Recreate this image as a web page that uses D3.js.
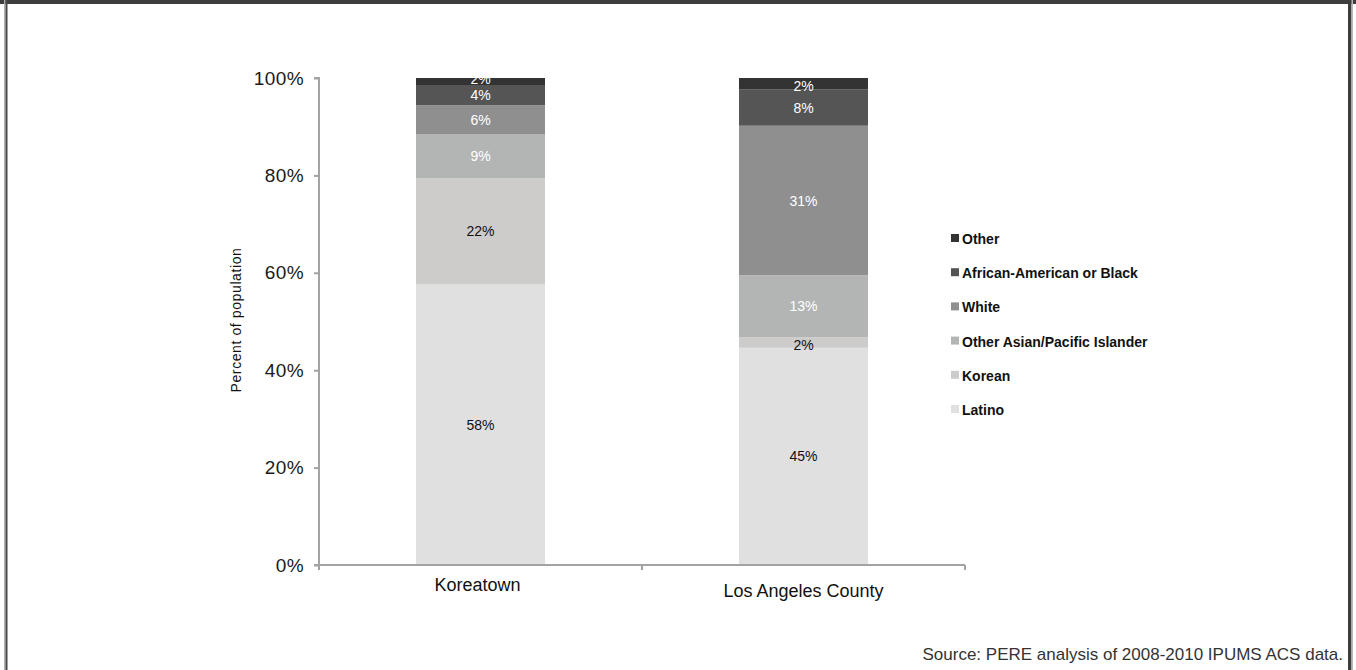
<!DOCTYPE html>
<html>
<head>
<meta charset="utf-8">
<script src="https://cdn.jsdelivr.net/npm/d3@7"></script>
<style>
  html, body { margin: 0; padding: 0; background: #fff; }
  svg { display: block; }
  text { font-family: "Liberation Sans", Arial, sans-serif; }
</style>
</head>
<body>
<svg id="chart" width="1356" height="670"></svg>
<script>
// Population by race/ethnicity, stacked to 100%
const places = ["Koreatown", "Los Angeles County"];
const groups = ["Latino", "Korean", "Other Asian/Pacific Islander", "White", "African-American or Black", "Other"];
const koreatownShares = [57.6, 21.8, 9.0, 6.0, 4.0, 1.6];
const laCountyShares  = [44.6, 2.2, 12.7, 30.7, 7.5, 2.3];
const groupColors = ["#e0e0e0", "#cdccca", "#b3b5b4", "#8f8f8f", "#555555", "#333333"];
const labelColors = ["#111111", "#111111", "#ffffff", "#ffffff", "#ffffff", "#ffffff"];
const yTicks = [0, 20, 40, 60, 80, 100];

const rows = places.map((p, i) => {
  const vals = i === 0 ? koreatownShares : laCountyShares;
  const r = { place: p };
  groups.forEach((g, j) => r[g] = vals[j]);
  return r;
});

const svg = d3.select("#chart");

// page frame
svg.append("rect").attr("x", 0).attr("y", 0).attr("width", 1356).attr("height", 4).attr("fill", "#3d3d3d");
svg.append("rect").attr("x", 4).attr("y", 0).attr("width", 1.5).attr("height", 670).attr("fill", "#b0b0b0");
svg.append("rect").attr("x", 5.5).attr("y", 0).attr("width", 2).attr("height", 670).attr("fill", "#4a4a4a");
svg.append("rect").attr("x", 1348).attr("y", 0).attr("width", 3.5).attr("height", 670).attr("fill", "#3d3d3d");
svg.append("rect").attr("x", 1351.5).attr("y", 0).attr("width", 1.5).attr("height", 670).attr("fill", "#b8b8b8");

const plotLeft = 319, plotRight = 965, plotTop = 78, plotBottom = 565;

const x = d3.scaleBand().domain(places).range([plotLeft, plotRight]).paddingInner(0).paddingOuter(0);
const barW = 129;
const y = d3.scaleLinear().domain([0, 100]).range([plotBottom, plotTop]);

const stack = d3.stack().keys(groups);
const series = stack(rows);

const g = svg.append("g");
series.forEach((s, si) => {
  g.selectAll(null).data(s).enter().append("rect")
    .attr("x", d => x(d.data.place) + (x.bandwidth() - barW) / 2)
    .attr("width", barW)
    .attr("y", d => y(d[1]))
    .attr("height", d => y(d[0]) - y(d[1]))
    .attr("fill", groupColors[si]);
});

// value labels (thin segments get their label nudged so neighbours stay apart)
series.forEach((s, si) => {
  g.selectAll(null).data(s).enter().append("text")
    .attr("x", d => x(d.data.place) + x.bandwidth() / 2)
    .attr("y", d => {
      const c = (y(d[0]) + y(d[1])) / 2;
      const h = y(d[0]) - y(d[1]);
      if (h < 10) return y(d[1]) + 1;
      if (h < 14) return y(d[0]) - 3;
      if (h < 22) return c - 1;
      return c;
    })
    .attr("dy", "0.36em")
    .attr("text-anchor", "middle")
    .attr("font-size", 14)
    .attr("fill", labelColors[si])
    .text(d => Math.round(d[1] - d[0]) + "%");
});

// axes
const axisColor = "#a3a3a3";
const yAxis = svg.append("g").attr("transform", `translate(${plotLeft},0)`)
  .call(d3.axisLeft(y).tickValues(yTicks).tickFormat(d => d + "%").tickSize(5).tickPadding(10));
yAxis.select(".domain").attr("stroke", axisColor).attr("stroke-width", 2).attr("d", `M-5,${plotTop}H0V${plotBottom}`);
yAxis.selectAll(".tick line").attr("stroke", axisColor).attr("stroke-width", 2);
yAxis.selectAll(".tick text").attr("font-size", 19).attr("fill", "#1a1a1a")
  .attr("letter-spacing", 0.4).attr("font-family", "Liberation Sans, Arial, sans-serif");

const xAxis = svg.append("g").attr("transform", `translate(0,${plotBottom})`);
xAxis.append("path").attr("d", `M${plotLeft - 5},0H${plotRight}`).attr("stroke", axisColor).attr("stroke-width", 2).attr("fill", "none");
[plotLeft, plotLeft + x.bandwidth(), plotRight].forEach(tx => {
  xAxis.append("line").attr("x1", tx).attr("x2", tx).attr("y1", 0).attr("y2", 5)
    .attr("stroke", axisColor).attr("stroke-width", 2);
});
xAxis.selectAll(null).data(places).enter().append("text")
  .attr("x", d => x(d) + x.bandwidth() / 2 + (d === "Koreatown" ? -3 : 0))
  .attr("y", d => d === "Koreatown" ? 26 : 32)
  .attr("text-anchor", "middle")
  .attr("font-size", 18)
  .attr("fill", "#111")
  .text(d => d);

// y axis title
svg.append("text")
  .attr("transform", `translate(241,320) rotate(-90)`)
  .attr("text-anchor", "middle")
  .attr("font-size", 14)
  .attr("letter-spacing", 0.6)
  .attr("fill", "#111")
  .text("Percent of population");

// legend, top entry first
const legendY = d3.scalePoint().domain(groups.slice().reverse()).range([239, 410]);
const lg = svg.append("g");
groups.forEach((grp, i) => {
  const ly = legendY(grp);
  lg.append("rect").attr("x", 951).attr("y", ly - 5).attr("width", 8).attr("height", 8).attr("fill", groupColors[i]);
  lg.append("text").attr("x", 962).attr("y", ly).attr("dy", "0.36em")
    .attr("font-size", 14).attr("font-weight", "bold").attr("fill", "#111").text(grp);
});

// source note
svg.append("text")
  .attr("x", 1343).attr("y", 660)
  .attr("text-anchor", "end")
  .attr("font-size", 17)
  .attr("fill", "#333")
  .text("Source: PERE analysis of 2008-2010 IPUMS ACS data.");
</script>
</body>
</html>
